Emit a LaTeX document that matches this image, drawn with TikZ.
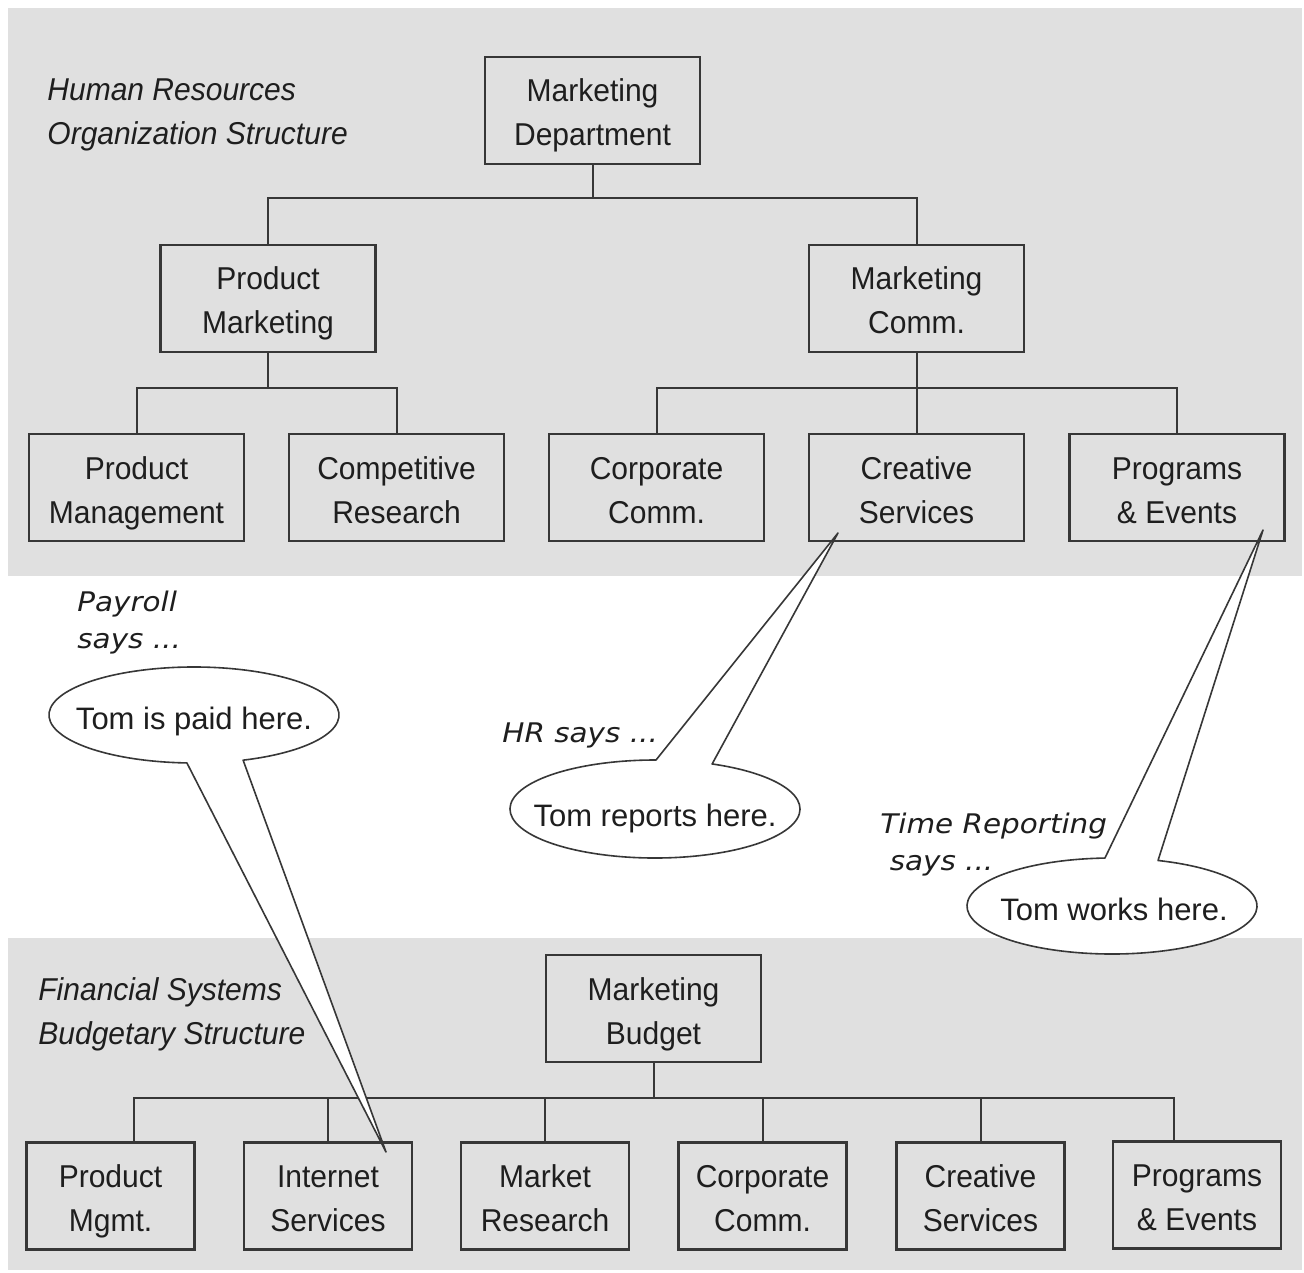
\documentclass[tikz,border=0pt]{standalone}
\usepackage{fontspec}
\setmainfont{Liberation Sans}
\newfontfamily\boxfont{Liberation Sans}[FakeStretch=0.95]
\newfontfamily\handfont{DejaVu Sans}[FakeStretch=1.09]
\definecolor{bandgray}{RGB}{224,224,224}
\definecolor{inkgray}{RGB}{55,55,55}
\definecolor{textdark}{RGB}{30,30,30}
\begin{document}
\begin{tikzpicture}[x=0.5pt,y=-0.5pt,
  unit/.style={draw=inkgray, line width=1.2pt, minimum width=107.5pt, minimum height=53.5pt,
    inner sep=0pt, align=center, text height=35.5pt, text depth=0pt,
    font=\boxfont\fontsize{15.8}{22}\selectfont, text=textdark},
  budget/.style={unit, minimum width=84pt},
  link/.style={draw=inkgray, line width=1pt},
  callout/.style={draw=inkgray, line width=0.8pt, fill=white, line join=round},
  heading/.style={anchor=west, align=left, inner sep=0pt, text height=35.5pt, text depth=0pt,
    font=\boxfont\fontsize{15.8}{22}\selectfont\itshape, text=textdark},
  saying/.style={anchor=west, align=left, inner sep=0pt, text height=30pt, text depth=0pt,
    font=\handfont\itshape\fontsize{13.5}{18.5}\selectfont, text=textdark},
  remark/.style={anchor=base, inner sep=0pt, font=\fontsize{15.5}{21.5}\selectfont, text=textdark}
]
% canvas and the two shaded bands
\useasboundingbox (0,0) rectangle (1304,1272);
\fill[white] (0,0) rectangle (1304,1272);
\fill[bandgray] (8,8) rectangle (1302,576);
\fill[bandgray] (8,938) rectangle (1302,1270);

% ---------- HR organization structure ----------
\node[heading] (hrtitle) at (47,109.5) {Human Resources\\Organization Structure};

\node[unit] (md)   at (592.5,110.5) {Marketing\\Department};
\node[unit] (pmk)  at (268,298.5)   {Product\\Marketing};
\node[unit] (mc)   at (916.5,298.5) {Marketing\\Comm.};
\node[unit] (pmgt) at (136.5,487.5) {Product\\Management};
\node[unit] (cres) at (396.5,487.5) {Competitive\\Research};
\node[unit] (cc)   at (656.5,487.5) {Corporate\\Comm.};
\node[unit] (cs)   at (916.5,487.5) {Creative\\Services};
\node[unit] (pe)   at (1177,487.5)  {Programs\\\& Events};

\coordinate (topbus) at (0,198);
\coordinate (pmbus) at (0,388);
\draw[link] (md.south) -- (md.south |- topbus) -| (pmk.north);
\draw[link] (md.south |- topbus) -| (mc.north);
\draw[link] (pmk.south) -- (pmk.south |- pmbus);
\draw[link] (pmgt.north) |- (cres.north |- pmbus) -- (cres.north);
\draw[link] (mc.south) -- (cs.north);
\draw[link] (cc.north) |- (pe.north |- pmbus) -- (pe.north);

% ---------- Financial budgetary structure ----------
\node[heading] (fstitle) at (38,1008.5) {Financial Systems\\Budgetary Structure};

\node[unit]   (mb)  at (653.5,1008.5) {Marketing\\Budget};
\node[budget] (bpm) at (110.5,1196)   {Product\\Mgmt.};
\node[budget] (bis) at (328,1196)     {Internet\\Services};
\node[budget] (bmr) at (545,1196)     {Market\\Research};
\node[budget] (bcc) at (762.5,1196)   {Corporate\\Comm.};
\node[budget] (bcs) at (980.5,1196)   {Creative\\Services};
\node[budget] (bpe) at (1197,1195)    {Programs\\\& Events};

\coordinate (fbL) at (134,1098);
\coordinate (fbR) at (1174,1098);
\draw[link] (mb.south) -- (mb.south |- fbL);
\draw[link] (bpm.north -| fbL) -- (fbL) -- (fbR) -- (bpe.north -| fbR);
\draw[link] (bis.north) -- (bis.north |- fbL);
\draw[link] (bmr.north) -- (bmr.north |- fbL);
\draw[link] (bcc.north) -- (bcc.north |- fbL);
\draw[link] (bcs.north) -- (bcs.north |- fbL);

% ---------- speech bubbles ----------
\coordinate (paid) at (194,715);
\coordinate (paidtip) at (386,1152);
\draw[callout] ([shift={(70.2:145 and 48)}]paid)
  arc[start angle=70.2, end angle=-267.2, x radius=145, y radius=48]
  -- (paidtip) -- cycle;

\coordinate (reports) at (655,809);
\coordinate (reportstip) at (838,533);
\draw[callout] ([shift={(-66.8:145 and 49)}]reports)
  arc[start angle=-66.8, end angle=270.4, x radius=145, y radius=49]
  -- (reportstip) -- cycle;

\coordinate (works) at (1112,906);
\coordinate (workstip) at (1263,530);
\draw[callout] ([shift={(-71.5:145 and 48)}]works)
  arc[start angle=-71.5, end angle=267.2, x radius=145, y radius=48]
  -- (workstip) -- cycle;

\node[remark] (paidtext)    at (194,729)  {Tom is paid here.};
\node[remark] (reportstext) at (655,826)  {Tom reports here.};
\node[remark] (workstext)   at (1114,920) {Tom works here.};

\node[saying] (payroll) at (77,618)  {Payroll\\says ...};
\node[saying, anchor=base west, text height=] (hr) at (502,742) {HR says ...};
\node[saying] (timerep) at (880,840) {Time Reporting\\\ says ...};
\end{tikzpicture}
\end{document}
